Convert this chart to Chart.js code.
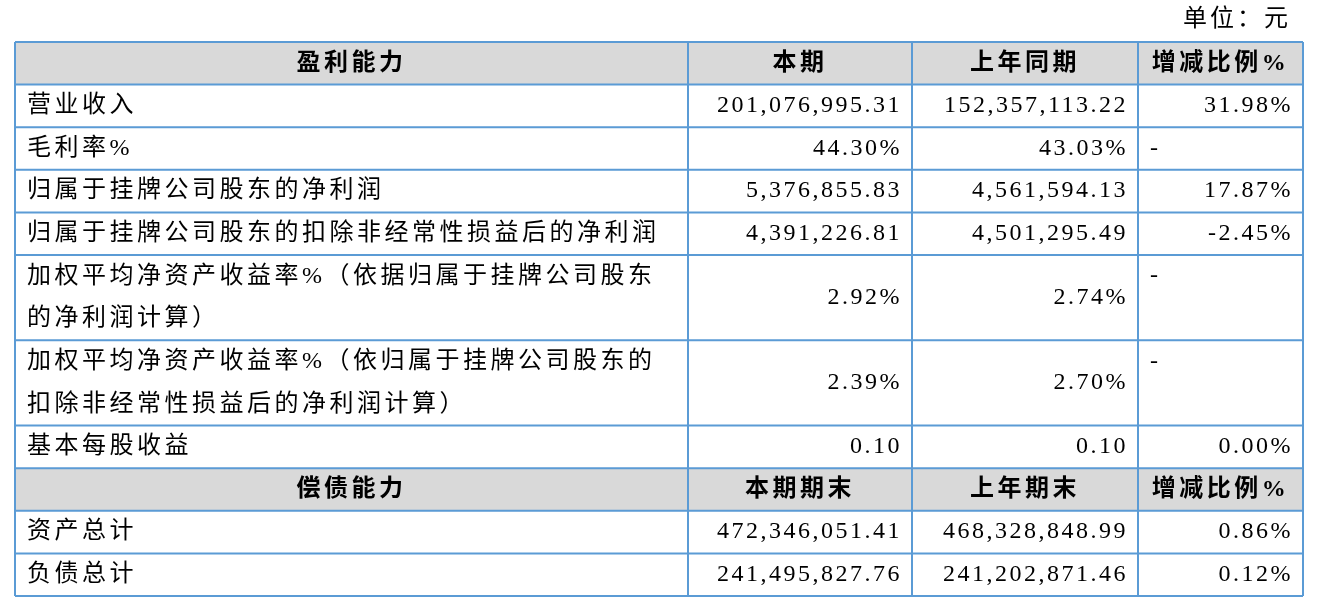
<!DOCTYPE html>
<html><head><meta charset="utf-8">
<script src="https://cdn.jsdelivr.net/npm/chart.js@4"></script>
<style>html,body{margin:0;padding:0;background:#fff}#c{display:block}</style>
</head><body>
<div style="width:1322px;height:604px"><canvas id="c"></canvas></div>
<script>
// ===================== Table data =====================
const colEdges = [0, 673, 897, 1123, 1288];
const rowSpans = [1, 1, 1, 1, 1, 2, 2, 1, 1, 1, 1, 1];
const headerRows = [0, 8];
const labels = [
    '盈利能力', '营业收入', '毛利率%', '归属于挂牌公司股东的净利润',
    '归属于挂牌公司股东的扣除非经常性损益后的净利润',
    '加权平均净资产收益率%（依据归属于挂牌公司股东|的净利润计算）',
    '加权平均净资产收益率%（依归属于挂牌公司股东的|扣除非经常性损益后的净利润计算）',
    '基本每股收益', '偿债能力', '资产总计', '负债总计'
];
const currentValues = ['本期', '201,076,995.31', '44.30%', '5,376,855.83', '4,391,226.81', '2.92%', '2.39%', '0.10', '本期期末', '472,346,051.41', '241,495,827.76'];
const priorValues = ['上年同期', '152,357,113.22', '43.03%', '4,561,594.13', '4,501,295.49', '2.74%', '2.70%', '0.10', '上年期末', '468,328,848.99', '241,202,871.46'];
const changeValues = ['增减比例%', '31.98%', '-', '17.87%', '-2.45%', '-', '-', '0.00%', '增减比例%', '0.86%', '0.12%'];
const unitText = '单位：元';

const totalUnits = labels.reduce((s, _, i) => s + rowSpans[i], 0);
const FONT = '"Liberation Serif", "Noto Sans CJK SC", serif';

const tablePlugin = {
    id: 'table',
    afterDraw(chart) {
        const c = chart.ctx, xs = chart.scales.x, ys = chart.scales.y;
        const X = v => xs.getPixelForValue(v), Y = v => ys.getPixelForValue(v);
        c.save();
        c.fillStyle = '#000';
        c.font = '24px ' + FONT;
        c.letterSpacing = '3px';
        c.textAlign = 'right'; c.textBaseline = 'middle';
        c.fillText(unitText, X(colEdges[4]) - 12, 20);
        let u = 0;
        labels.forEach((lab, i) => {
            const top = Y(u), bot = Y(u + rowSpans[i]);
            const isHead = headerRows.includes(i);
            if (isHead) {
                c.fillStyle = '#d9d9d9';
                c.fillRect(X(colEdges[0]), top, X(colEdges[4]) - X(colEdges[0]), bot - top);
            }
            c.fillStyle = '#000';
            c.textBaseline = 'middle';
            const mid = (top + bot) / 2;
            const cells = [lab, currentValues[i], priorValues[i], changeValues[i]];
            cells.forEach((txt, j) => {
                const l = X(colEdges[j]), r = X(colEdges[j + 1]);
                c.font = (isHead ? 'bold ' : '') + '24px ' + FONT;
                c.letterSpacing = j > 0 && !isHead ? '2.5px' : '3.5px';
                if (isHead) {
                    c.textAlign = 'center';
                    c.fillText(txt, (l + r) / 2, mid);
                } else if (j === 0) {
                    c.textAlign = 'left';
                    const lines = txt.split('|');
                    const h = (bot - top) / lines.length;
                    lines.forEach((ln, k) => c.fillText(ln, l + 12, top + h * (k + 0.5)));
                } else if (txt === '-') {
                    c.textAlign = 'left';
                    c.fillText(txt, l + 12, rowSpans[i] > 1 ? top + 21 : mid);
                } else {
                    c.textAlign = 'right';
                    c.fillText(txt, r - 10, mid);
                }
            });
            u += rowSpans[i];
        });
        // grid lines
        c.strokeStyle = '#5b9bd5'; c.lineWidth = 2;
        c.beginPath();
        let acc = 0;
        for (let i = 0; i <= labels.length; i++) {
            const y = Y(acc);
            c.moveTo(X(colEdges[0]), y); c.lineTo(X(colEdges[4]), y);
            if (i < labels.length) acc += rowSpans[i];
        }
        colEdges.forEach(e => {
            const x = X(e);
            c.moveTo(x, Y(0)); c.lineTo(x, Y(totalUnits));
        });
        c.stroke();
        c.restore();
    }
};

new Chart(document.getElementById('c'), {
    type: 'scatter',
    data: { datasets: [{ data: [] }] },
    options: {
        responsive: true, maintainAspectRatio: false, animation: false,
        layout: { padding: { left: 15, right: 19, top: 42, bottom: 8 } },
        plugins: { legend: { display: false }, tooltip: { enabled: false } },
        scales: {
            x: { type: 'linear', min: 0, max: colEdges[4], display: false },
            y: { type: 'linear', min: 0, max: totalUnits, reverse: true, display: false }
        }
    },
    plugins: [tablePlugin]
});
</script>
</body></html>
